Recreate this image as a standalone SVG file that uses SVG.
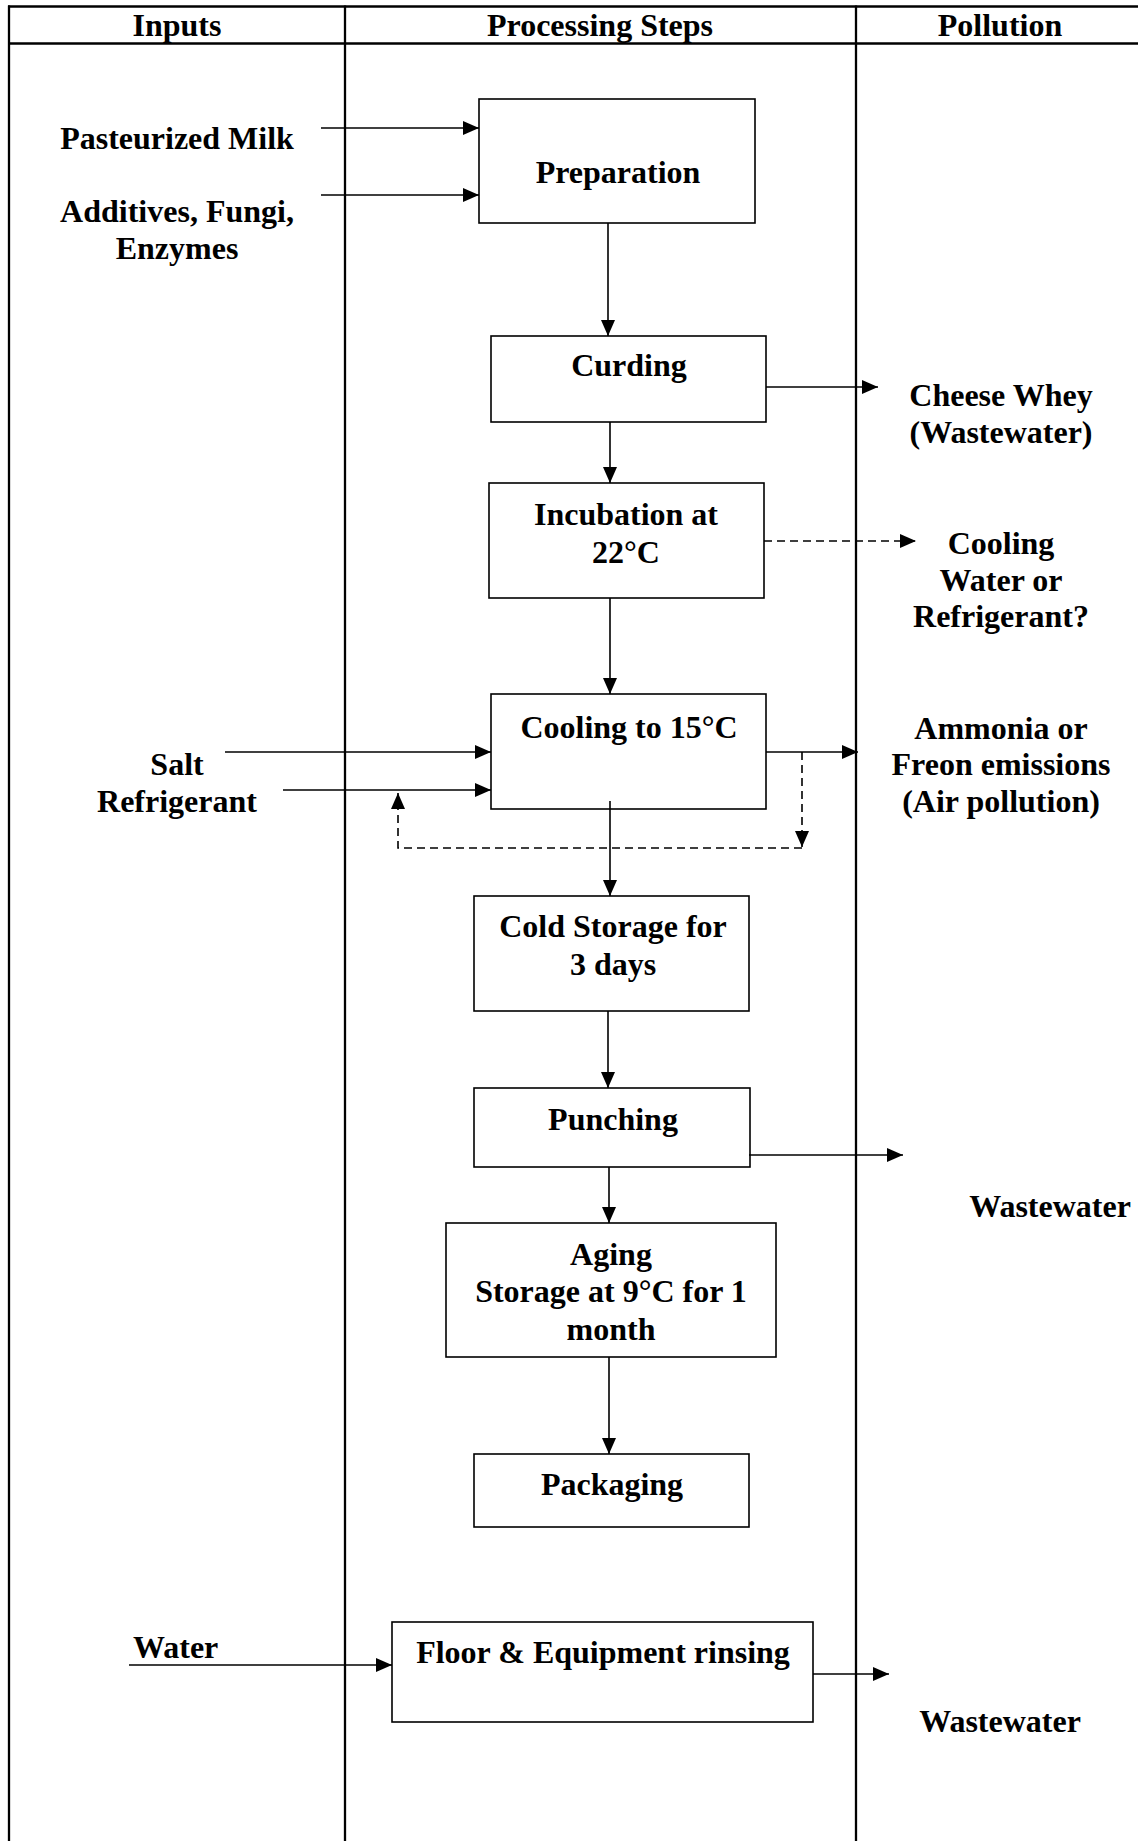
<svg xmlns="http://www.w3.org/2000/svg" width="1138" height="1841" viewBox="0 0 1138 1841">
<style>
text{font-family:"Liberation Serif","Times New Roman",serif;font-weight:bold;font-size:32px;fill:#000;text-anchor:middle}
.l{text-anchor:start}
.frame{stroke:#000;stroke-width:2.3;fill:none}
.box{stroke:#000;stroke-width:1.6;fill:#fff}
.c{stroke:#000;stroke-width:1.6;fill:none;marker-end:url(#ah)}
.d{stroke-dasharray:8,5}
.p{stroke:#000;stroke-width:1.6;fill:none}
</style>
<defs>
<marker id="ah" markerUnits="userSpaceOnUse" markerWidth="16" markerHeight="14" refX="16" refY="7" orient="auto">
<path d="M0,0 L16,7 L0,14 z" fill="#000"/>
</marker>
</defs>
<rect width="1138" height="1841" fill="#fff"/>
<g id="frame">
<line class="frame" x1="8" y1="6.5" x2="1138" y2="6.5"/>
<line class="frame" x1="8" y1="43.5" x2="1138" y2="43.5"/>
<line class="frame" x1="9" y1="5.5" x2="9" y2="1841"/>
<line class="frame" x1="345" y1="5.5" x2="345" y2="1841"/>
<line class="frame" x1="856" y1="5.5" x2="856" y2="1841"/>
<text x="177" y="36">Inputs</text>
<text x="600" y="36">Processing Steps</text>
<text x="1000" y="36">Pollution</text>
</g>
<g id="inputs">
<text x="177" y="149">Pasteurized Milk</text>
<text x="177" y="222">Additives, Fungi,</text>
<text x="177" y="259">Enzymes</text>
<text x="177" y="775">Salt</text>
<text x="177" y="812">Refrigerant</text>
<text class="l" x="133" y="1658">Water</text>
</g>
<g id="outputs">
<text x="1001" y="406">Cheese Whey</text>
<text x="1001" y="443">(Wastewater)</text>
<text x="1001" y="554">Cooling</text>
<text x="1001" y="591">Water or</text>
<text x="1001" y="627">Refrigerant?</text>
<text x="1001" y="739">Ammonia or</text>
<text x="1001" y="775">Freon emissions</text>
<text x="1001" y="812">(Air pollution)</text>
<text x="1050" y="1217">Wastewater</text>
<text x="1000" y="1732">Wastewater</text>
</g>
<g id="preparation"><rect class="box" x="479" y="99" width="276" height="124"/><text x="618" y="183">Preparation</text></g>
<g id="curding"><rect class="box" x="491" y="336" width="275" height="86"/><text x="629" y="376">Curding</text></g>
<g id="incubation"><rect class="box" x="489" y="483" width="275" height="115"/><text x="626" y="525">Incubation at</text><text x="626" y="563">22°C</text></g>
<g id="cooling"><rect class="box" x="491" y="694" width="275" height="115"/><text x="629" y="738">Cooling to 15°C</text></g>
<g id="cold-storage"><rect class="box" x="474" y="896" width="275" height="115"/><text x="613" y="937">Cold Storage for</text><text x="613" y="975">3 days</text></g>
<g id="punching"><rect class="box" x="474" y="1088" width="276" height="79"/><text x="613" y="1130">Punching</text></g>
<g id="aging"><rect class="box" x="446" y="1223" width="330" height="134"/><text x="611" y="1265">Aging</text><text x="611" y="1302">Storage at 9°C for 1</text><text x="611" y="1340">month</text></g>
<g id="packaging"><rect class="box" x="474" y="1454" width="275" height="73"/><text x="612" y="1495">Packaging</text></g>
<g id="rinsing"><rect class="box" x="392" y="1622" width="421" height="100"/><text x="603" y="1663">Floor &amp; Equipment rinsing</text></g>
<g id="connectors">
<line class="c" x1="321" y1="128" x2="479" y2="128"/>
<line class="c" x1="321" y1="195" x2="479" y2="195"/>
<line class="c" x1="608" y1="223" x2="608" y2="336"/>
<line class="c" x1="766" y1="387" x2="878" y2="387"/>
<line class="c" x1="610" y1="422" x2="610" y2="483"/>
<line class="c d" x1="764" y1="541" x2="916" y2="541"/>
<line class="c" x1="610" y1="598" x2="610" y2="694"/>
<line class="c" x1="225" y1="752" x2="491" y2="752"/>
<line class="c" x1="283" y1="790" x2="491" y2="790"/>
<line class="c" x1="766" y1="752" x2="858" y2="752"/>
<line class="c d" x1="802" y1="752" x2="802" y2="847"/>
<path class="c d" d="M802,848 L398,848 L398,793"/>
<line class="c" x1="610" y1="801" x2="610" y2="896"/>
<line class="c" x1="608" y1="1011" x2="608" y2="1088"/>
<line class="c" x1="749" y1="1155" x2="903" y2="1155"/>
<line class="c" x1="609" y1="1167" x2="609" y2="1223"/>
<line class="c" x1="609" y1="1357" x2="609" y2="1454"/>
<line class="c" x1="129" y1="1665" x2="392" y2="1665"/>
<line class="c" x1="813" y1="1674" x2="889" y2="1674"/>
</g>
</svg>
